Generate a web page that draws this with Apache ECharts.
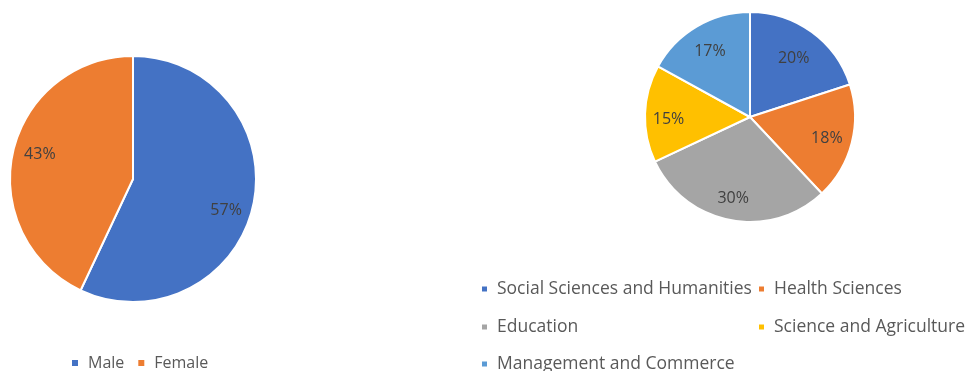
<!DOCTYPE html>
<html><head><meta charset="utf-8">
<script src="https://cdn.jsdelivr.net/npm/echarts@6/dist/echarts.min.js"></script>
<style>html,body{margin:0;padding:0;background:#fff}#c{width:967px;height:371px}</style>
</head><body><div id="c"></div>
<script>
const genderNames = ['Male', 'Female'];
const genderValues = [57, 43];
const facultyNames = ['Social Sciences and Humanities', 'Health Sciences', 'Education', 'Science and Agriculture', 'Management and Commerce'];
const facultyValues = [20, 18, 30, 15, 17];

const genderColors = ['#4472C4', '#ED7D31'];
const facultyColors = ['#4472C4', '#ED7D31', '#A5A5A5', '#FFC000', '#5B9BD5'];
// small nudges of the data-label text (Excel "best fit" placement)
const genderLabelNudge = [[-3, 10], [3, -3]];
const facultyLabelNudge = [[-6, 10], [-5, 0], [-1, -2], [3, 5], [3, 7]];
const FONT = 'Open Sans';

function mk(names, vals, colors) {
  return names.map((n, i) => ({ name: n, value: vals[i], itemStyle: { color: colors[i] } }));
}
function mkLbl(names, vals, nudge) {
  return names.map((n, i) => ({ name: n, value: vals[i], itemStyle: { color: 'transparent' },
    label: { offset: nudge[i] } }));
}
function leg(names, left, top, size, icon, gap) {
  return { data: names, left: left, top: top, orient: 'horizontal', icon: 'rect', itemWidth: icon, itemHeight: icon,
    itemGap: gap, textStyle: { color: '#595959', fontSize: size, fontFamily: FONT, padding: [0, 0, 0, 4] },
    selectedMode: false, padding: 0 };
}
const chart = echarts.init(document.getElementById('c'));
const lblStyle = { show: true, position: 'inside', formatter: '{c}%', color: '#404040', fontSize: 16, fontFamily: FONT };
chart.setOption({
  animation: false,
  legend: [
    leg(genderNames, 70, 355, 16, 8, 12),
    leg([facultyNames[0]], 480, 280, 17.5, 7, 15),
    leg([facultyNames[1]], 757, 280, 17.5, 7, 15),
    leg([facultyNames[2]], 480, 318, 17.5, 7, 15),
    leg([facultyNames[3]], 757, 318, 17.5, 7, 15),
    leg([facultyNames[4]], 480, 355, 17.5, 7, 15)
  ],
  series: [
    { type: 'pie', center: [133, 179], radius: [0, 123], startAngle: 90, clockwise: true,
      data: mk(genderNames, genderValues, genderColors), label: { show: false }, labelLine: { show: false },
      itemStyle: { borderColor: '#fff', borderWidth: 2 }, silent: true },
    { type: 'pie', center: [133, 179], radius: [68, 123], startAngle: 90, clockwise: true,
      data: mkLbl(genderNames, genderValues, genderLabelNudge), label: lblStyle, labelLine: { show: false },
      silent: true, z: 3 },
    { type: 'pie', center: [750, 117], radius: [0, 105], startAngle: 90, clockwise: true,
      data: mk(facultyNames, facultyValues, facultyColors), label: { show: false }, labelLine: { show: false },
      itemStyle: { borderColor: '#fff', borderWidth: 2 }, silent: true },
    { type: 'pie', center: [750, 117], radius: [58, 105], startAngle: 90, clockwise: true,
      data: mkLbl(facultyNames, facultyValues, facultyLabelNudge), label: lblStyle, labelLine: { show: false },
      silent: true, z: 3 }
  ]
});
</script></body></html>
